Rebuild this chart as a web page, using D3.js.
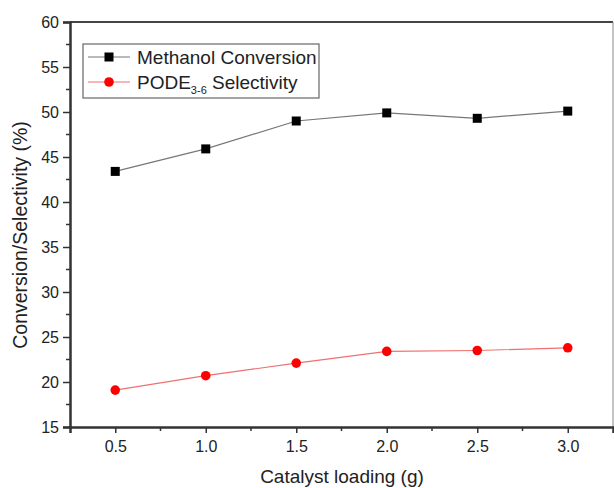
<!DOCTYPE html>
<html>
<head>
<meta charset="utf-8">
<script src="https://cdn.jsdelivr.net/npm/d3@7"></script>
<style>
  body { margin: 0; background: #fff; }
  text { font-family: "Liberation Sans", Arial, sans-serif; fill: #222; }
</style>
</head>
<body>
<svg id="chart"></svg>
<script>
// catalyst loading (g)
const loading = [0.5, 1.0, 1.5, 2.0, 2.5, 3.0];
// methanol conversion (%)
const conversion = [43.4, 45.9, 49.0, 49.9, 49.3, 50.1];
// PODE3-6 selectivity (%)
const selectivity = [19.1, 20.7, 22.1, 23.4, 23.5, 23.8];

const xTicks = [0.5, 1.0, 1.5, 2.0, 2.5, 3.0];
const yTicks = [15, 20, 25, 30, 35, 40, 45, 50, 55, 60];

const width = 614, height = 488;
const margin = { top: 22, right: 1, bottom: 61, left: 70 };

const svg = d3.select("#chart").attr("width", width).attr("height", height);

const x = d3.scaleLinear().domain([0.25, 3.25]).range([margin.left, width - margin.right]);
const y = d3.scaleLinear().domain([15, 60]).range([height - margin.bottom, margin.top]);

//frame: top thick, right thin gray
svg.append("line")
  .attr("x1", margin.left).attr("x2", width - margin.right)
  .attr("y1", margin.top).attr("y2", margin.top)
  .attr("stroke", "#444").attr("stroke-width", 2);
svg.append("line")
  .attr("x1", width - margin.right).attr("x2", width - margin.right)
  .attr("y1", margin.top).attr("y2", height - margin.bottom)
  .attr("stroke", "#888").attr("stroke-width", 1);

//minor ticks
const xMinor = d3.range(0.75, 3.25, 0.5);
const yMinor = d3.range(17.5, 60, 5);

const xAxis = svg.append("g")
  .attr("transform", `translate(0, ${height - margin.bottom})`)
  .call(d3.axisBottom(x).tickValues(xTicks).tickFormat(d3.format(".1f")).tickSize(6).tickPadding(8));
xAxis.append("g").selectAll("line").data(xMinor).join("line")
  .attr("x1", (d) => x(d)).attr("x2", (d) => x(d))
  .attr("y1", 0).attr("y2", 4)
  .attr("stroke", "#333").attr("stroke-width", 1.5);

const yAxis = svg.append("g")
  .attr("transform", `translate(${margin.left}, 0)`)
  .call(d3.axisLeft(y).tickValues(yTicks).tickSize(7).tickPadding(4));
yAxis.append("g").selectAll("line").data(yMinor).join("line")
  .attr("x1", 0).attr("x2", -4)
  .attr("y1", (d) => y(d)).attr("y2", (d) => y(d))
  .attr("stroke", "#333").attr("stroke-width", 1.5);

[xAxis, yAxis].forEach((g) => {
  g.select(".domain").attr("stroke", "#333").attr("stroke-width", 2.5);
  g.selectAll(".tick line").attr("stroke", "#333").attr("stroke-width", 1.5);
  g.selectAll(".tick text").attr("font-size", 16).attr("fill", "#333")
    .attr("font-family", "Liberation Sans, Arial, sans-serif");
});

//axis titles
svg.append("text")
  .attr("x", 342)
  .attr("y", 483)
  .attr("text-anchor", "middle")
  .attr("font-size", 19)
  .text("Catalyst loading (g)");

svg.append("text")
  .attr("transform", `translate(27, 235) rotate(-90)`)
  .attr("text-anchor", "middle")
  .attr("font-size", 19.5)
  .text("Conversion/Selectivity (%)");

//series
const line = d3.line().x((d) => x(d[0])).y((d) => y(d[1]));

const convData = loading.map((d, i) => [d, conversion[i]]);
const selData = loading.map((d, i) => [d, selectivity[i]]);

svg.append("path").datum(convData)
  .attr("d", line).attr("fill", "none")
  .attr("stroke", "#777").attr("stroke-width", 1.2);
svg.append("path").datum(selData)
  .attr("d", line).attr("fill", "none")
  .attr("stroke", "#f07070").attr("stroke-width", 1.2);

const sq = 9;
svg.selectAll("rect.conv").data(convData).join("rect")
  .attr("class", "conv")
  .attr("x", (d) => x(d[0]) - sq / 2).attr("y", (d) => y(d[1]) - sq / 2)
  .attr("width", sq).attr("height", sq)
  .attr("fill", "#000");
svg.selectAll("circle.sel").data(selData).join("circle")
  .attr("class", "sel")
  .attr("cx", (d) => x(d[0])).attr("cy", (d) => y(d[1]))
  .attr("r", 4.8)
  .attr("fill", "#f00");

//legend
const legend = svg.append("g");
legend.append("rect")
  .attr("x", 83).attr("y", 44).attr("width", 236).attr("height", 54)
  .attr("fill", "#fff").attr("stroke", "#666").attr("stroke-width", 1.2);

const items = [
  { label: "Methanol Conversion", color: "#777", shape: "rect" },
  { label: "PODE", sub: "3-6", rest: " Selectivity", color: "#f07070", shape: "circle" }
];
items.forEach((it, i) => {
  const cy = 57 + i * 25;
  legend.append("line")
    .attr("x1", 88).attr("x2", 130).attr("y1", cy).attr("y2", cy)
    .attr("stroke", it.color).attr("stroke-width", 1.2);
  if (it.shape === "rect") {
    legend.append("rect")
      .attr("x", 109 - sq / 2).attr("y", cy - sq / 2)
      .attr("width", sq).attr("height", sq).attr("fill", "#000");
  } else {
    legend.append("circle").attr("cx", 109).attr("cy", cy).attr("r", 4.8).attr("fill", "#f00");
  }
  const t = legend.append("text")
    .attr("x", 137).attr("y", cy + 6.5)
    .attr("font-size", 19);
  if (it.sub) {
    t.append("tspan").text(it.label);
    t.append("tspan").attr("dy", 5).attr("font-size", 11).text(it.sub);
    t.append("tspan").attr("dy", -5).text(it.rest);
  } else {
    t.text(it.label);
  }
});
</script>
</body>
</html>
